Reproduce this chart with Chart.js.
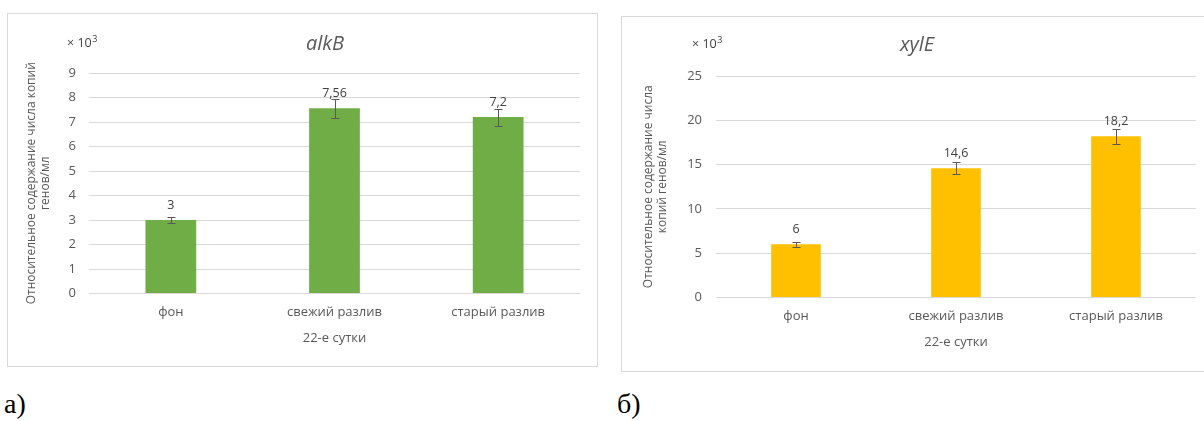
<!DOCTYPE html>
<html>
<head>
<meta charset="utf-8">
<script src="https://cdn.jsdelivr.net/npm/chart.js@4.4.0/dist/chart.umd.min.js"></script>
<style>
body { margin: 0; width: 1204px; height: 421px; background: #fff; position: relative; overflow: hidden; }
.frame { position: absolute; border: 1px solid #d9d9d9; background: #fff; }
#frameA { left: 7px; top: 13px; width: 589px; height: 352px; }
#frameB { left: 621px; top: 16px; width: 598px; height: 354px; }
canvas { display: block; }
.tag { position: absolute; font-family: "Liberation Serif", serif; font-size: 28px; color: #000; line-height: 1; }
</style>
</head>
<body>
<div class="frame" id="frameA"><canvas id="chartA" width="589" height="352"></canvas></div>
<div class="frame" id="frameB"><canvas id="chartB" width="598" height="354"></canvas></div>
<div class="tag" style="left:4px; top:390px;">а)</div>
<div class="tag" style="left:617px; top:390px;">б)</div>

<script>
// --- data ---
const categories = ['фон', 'свежий разлив', 'старый разлив'];
const alkBValues = [3, 7.56, 7.2];
const alkBErrors = [0.14, 0.38, 0.35];
const alkBTicks = [0, 1, 2, 3, 4, 5, 6, 7, 8, 9];
const xylEValues = [6, 14.6, 18.2];
const xylEErrors = [0.28, 0.7, 0.85];
const xylETicks = [0, 5, 10, 15, 20, 25];

Chart.defaults.font.family = '"Open Sans", sans-serif';
Chart.defaults.color = '#595959';

// error bars, value labels, title and the "x 10^3" note
const overlay = {
    id: 'overlay',
    afterDatasetsDraw(chart, args, opts) {
        const ctx = chart.ctx;
        const yScale = chart.scales.y;
        const meta = chart.getDatasetMeta(0);
        ctx.save();
        ctx.strokeStyle = '#595959';
        ctx.lineWidth = 1;
        meta.data.forEach((bar, i) => {
            const v = opts.values[i], e = opts.errors[i];
            const x = Math.round(bar.x) + 0.5;
            const yt = Math.round(yScale.getPixelForValue(v + e)) + 0.5;
            const yb = Math.round(yScale.getPixelForValue(v - e)) + 0.5;
            ctx.beginPath();
            ctx.moveTo(x, yt); ctx.lineTo(x, yb);
            ctx.moveTo(x - 4, yt); ctx.lineTo(x + 4, yt);
            ctx.moveTo(x - 4, yb); ctx.lineTo(x + 4, yb);
            ctx.stroke();

            ctx.fillStyle = '#404040';
            ctx.font = '12.5px "Open Sans"';
            ctx.textAlign = 'center';
            ctx.textBaseline = 'middle';
            ctx.fillText(String(v).replace('.', ','), bar.x, bar.y - 15);
        });

        // chart title
        ctx.fillStyle = '#595959';
        ctx.font = 'italic 20px "Open Sans"';
        ctx.textAlign = 'center';
        ctx.textBaseline = 'middle';
        ctx.fillText(opts.title, opts.titleX, opts.titleY);

        // multiplier
        ctx.font = '12.5px "Open Sans"';
        ctx.textAlign = 'left';
        ctx.fillStyle = '#404040';
        ctx.fillText('× 10', opts.multX, opts.multY);
        const w = ctx.measureText('× 10').width;
        ctx.font = '9px "Open Sans"';
        ctx.fillText('3', opts.multX + w + 0.5, opts.multY - 4);
        ctx.restore();
    }
};

function makeChart(canvasId, cfg) {
    const step = cfg.ticks[1] - cfg.ticks[0];
    return new Chart(document.getElementById(canvasId), {
        type: 'bar',
        data: {
            labels: categories,
            datasets: [{
                data: cfg.values,
                backgroundColor: cfg.color,
                borderWidth: 0,
                barPercentage: 0.31,
                categoryPercentage: 1
            }]
        },
        options: {
            responsive: false,
            animation: false,
            layout: { padding: { left: 0, right: cfg.padRight, top: 59, bottom: cfg.padBottom } },
            plugins: {
                legend: { display: false },
                tooltip: { enabled: false },
                overlay: cfg.overlay
            },
            scales: {
                x: {
                    grid: { display: false, drawTicks: false },
                    border: { display: false },
                    ticks: { padding: 11, font: { size: 13 }, color: '#595959' },
                    title: { display: true, text: '22-е сутки', font: { size: 13 }, color: '#595959', padding: { top: 0, bottom: 0 } },
                    afterFit: (s) => { s.height = 52.5; }
                },
                y: {
                    min: cfg.ticks[0],
                    max: cfg.ticks[cfg.ticks.length - 1],
                    grid: { color: '#d9d9d9', drawTicks: false },
                    border: { display: false },
                    ticks: { stepSize: step, padding: cfg.tickPad, font: { size: 13 }, color: '#595959' },
                    title: { display: true, text: cfg.yTitle, font: { size: 12 }, color: '#595959', padding: { top: cfg.titlePad, bottom: 0 } },
                    afterFit: (s) => { s.width = cfg.axisWidth; }
                }
            }
        },
        plugins: [overlay]
    });
}

makeChart('chartA', {
    values: alkBValues,
    ticks: alkBTicks,
    color: '#70AD47',
    padRight: 17,
    padBottom: 20,
    axisWidth: 81,
    tickPad: 13,
    titlePad: 16,
    yTitle: ['Относительное содержание числа копий', 'генов/мл'],
    overlay: { values: alkBValues, errors: alkBErrors, title: 'alkB', titleX: 317, titleY: 30, multX: 59, multY: 29 }
});

makeChart('chartB', {
    values: xylEValues,
    ticks: xylETicks,
    color: '#FFC000',
    padRight: 24,
    padBottom: 21,
    axisWidth: 94,
    tickPad: 14,
    titlePad: 19,
    yTitle: ['Относительное содержание числа', 'копий генов/мл'],
    overlay: { values: xylEValues, errors: xylEErrors, title: 'xylE', titleX: 295, titleY: 28, multX: 70, multY: 27 }
});
</script>
</body>
</html>
